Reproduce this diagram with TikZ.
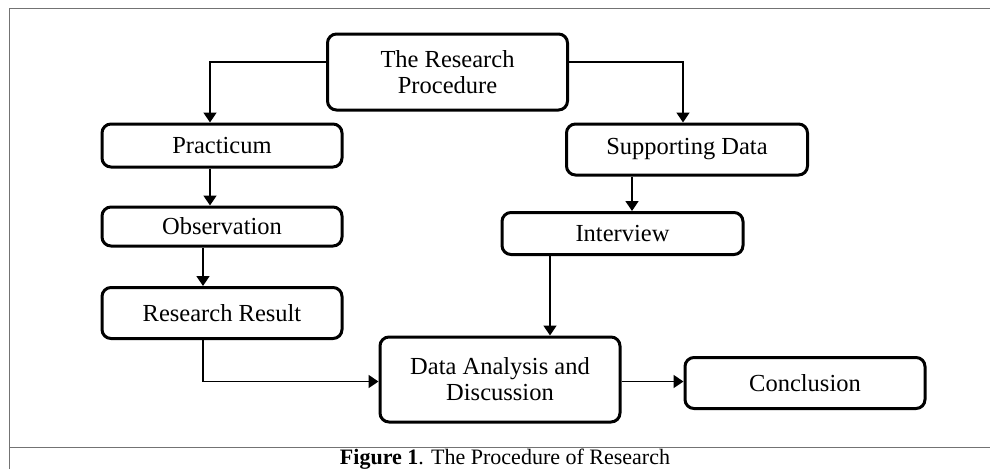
\documentclass[tikz,border=0pt]{standalone}
\usepackage{fontspec}
\setmainfont{Liberation Serif}
\usetikzlibrary{arrows.meta}

\begin{document}
\begin{tikzpicture}[x=1pt,y=-1pt]
        \tikzstyle{box}=[draw=black, line width=3pt, rounded corners=9pt, align=center, inner sep=0pt, font=\fontsize{24.5}{26}\selectfont]
        \tikzstyle{arr}=[draw=black, line width=1.5pt, -{Triangle[length=10pt,width=13pt]}]
        \tikzstyle{frame}=[draw=black!55, line width=0.8pt]
        \useasboundingbox (0,0) rectangle (990,469);
        \draw [frame] (9,469) -- (9,8) -- (990,8);
        \draw [frame] (9,447) -- (990,447);
        \node [box, minimum width=240pt, minimum height=76pt] (proc) at (447.5,72) {The Research\\Procedure};
        \node [box, minimum width=240pt, minimum height=43pt] (prac) at (222,145.5) {Practicum};
        \node [box, minimum width=240pt, minimum height=39pt] (obs) at (222,226.5) {Observation};
        \node [box, minimum width=240pt, minimum height=51pt] (res) at (222,313) {Research Result};
        \node [box, minimum width=241pt, minimum height=51pt] (supp) at (687,149.5) {Supporting Data};
        \node [box, minimum width=241pt, minimum height=42pt] (intv) at (622.5,233.5) {Interview};
        \node [box, minimum width=240pt, minimum height=85pt] (dana) at (500,379.5) {Data Analysis and\\Discussion};
        \node [box, minimum width=240pt, minimum height=51pt] (conc) at (805,383) {Conclusion};
        \draw [arr] ([yshift=10pt]proc.west) -| ([xshift=-12pt]prac.north);
        \draw [arr] ([yshift=10pt]proc.east) -| ([xshift=-4pt]supp.north);
        \draw [arr] ([xshift=-12pt]prac.south) -- ([xshift=-12pt]obs.north);
        \draw [arr] ([xshift=-19pt]obs.south) -- ([xshift=-19pt]res.north);
        \draw [arr] ([xshift=-19pt]res.south) |- ([yshift=-2pt]dana.west);
        \draw [arr] ([xshift=-55pt]supp.south) -- ([xshift=9.5pt]intv.north);
        \draw [arr] ([xshift=-72.5pt]intv.south) -- ([xshift=50pt]dana.north);
        \draw [arr] ([yshift=-2pt]dana.east) -- ([yshift=-2pt]dana.east -| conc.west);
        \node [anchor=base, font=\fontsize{22}{24}\selectfont, inner sep=0pt] (cap) at (505,464) {\textbf{Figure 1}. The Procedure of Research};
\end{tikzpicture}
\end{document}
